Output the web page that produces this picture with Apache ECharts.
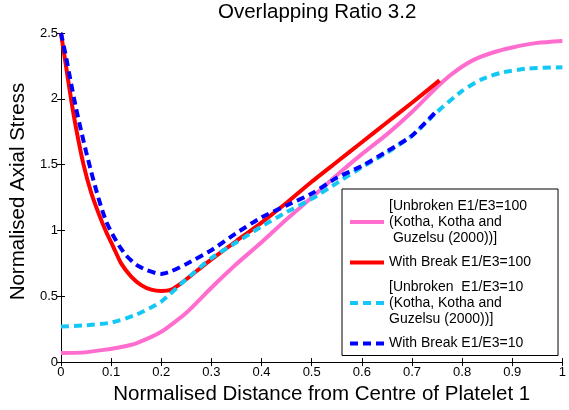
<!DOCTYPE html>
<html>
<head>
<meta charset="utf-8">
<title>Overlapping Ratio 3.2</title>
<script src="https://cdn.jsdelivr.net/npm/echarts/dist/echarts.min.js"></script>
<style>
  html, body { margin: 0; padding: 0; background: #fff; }
  #chart { width: 569px; height: 410px; }
</style>
</head>
<body>
<div id="chart"></div>
<script>
// values
const unbroken100X = [0, 0.04, 0.085, 0.12, 0.15, 0.2, 0.25, 0.3, 0.35, 0.4, 0.45, 0.5, 0.55, 0.6, 0.65, 0.7, 0.75, 0.78, 0.82, 0.86, 0.9, 0.95, 1.0]
const unbroken100Y = [0.07, 0.072, 0.093, 0.115, 0.143, 0.23, 0.375, 0.565, 0.745, 0.91, 1.085, 1.25, 1.42, 1.58, 1.73, 1.9, 2.09, 2.19, 2.29, 2.35, 2.39, 2.425, 2.44]

const break100X = [0, 0.01, 0.02, 0.03, 0.045, 0.06, 0.075, 0.09, 0.105, 0.12, 0.14, 0.16, 0.18, 0.2, 0.22, 0.24, 0.27, 0.3, 0.35, 0.4, 0.45, 0.5, 0.55, 0.6, 0.65, 0.7, 0.755]
const break100Y = [2.5, 2.25, 2.0, 1.78, 1.5, 1.29, 1.13, 0.99, 0.87, 0.75, 0.65, 0.585, 0.55, 0.54, 0.55, 0.6, 0.69, 0.78, 0.92, 1.06, 1.21, 1.37, 1.52, 1.67, 1.82, 1.97, 2.14]

const unbroken10X = [0, 0.05, 0.1, 0.15, 0.2, 0.25, 0.3, 0.35, 0.4, 0.45, 0.5, 0.55, 0.6, 0.65, 0.7, 0.75, 0.8, 0.84, 0.88, 0.93, 1.0]
const unbroken10Y = [0.27, 0.28, 0.3, 0.36, 0.46, 0.63, 0.79, 0.91, 1.03, 1.14, 1.24, 1.36, 1.48, 1.59, 1.72, 1.9, 2.06, 2.15, 2.2, 2.23, 2.24]

const break10X = [0, 0.01, 0.02, 0.03, 0.04, 0.05, 0.06, 0.07, 0.08, 0.09, 0.1, 0.115, 0.13, 0.15, 0.17, 0.19, 0.2, 0.22, 0.25, 0.3, 0.35, 0.4, 0.45, 0.5, 0.55, 0.6, 0.65, 0.7, 0.75]
const break10Y = [2.5, 2.32, 2.12, 1.93, 1.76, 1.6, 1.45, 1.31, 1.18, 1.07, 0.99, 0.89, 0.81, 0.74, 0.7, 0.675, 0.67, 0.69, 0.745, 0.85, 0.98, 1.1, 1.19, 1.28, 1.4, 1.49, 1.6, 1.72, 1.91]

const legendNames = [
  '[Unbroken E1/E3=100\n(Kotha, Kotha and\n Guzelsu (2000))]',
  'With Break E1/E3=100',
  '[Unbroken  E1/E3=10\n(Kotha, Kotha and\nGuzelsu (2000))]',
  'With Break E1/E3=10'
]

const font = 'Liberation Sans, Arial, sans-serif'

function pairs(xs, ys) {
  return xs.map((x, i) => [x, ys[i]])
}

const chart = echarts.init(document.getElementById('chart'), null, { renderer: 'canvas' })

const axisLine = { show: true, lineStyle: { color: '#000', width: 1 } }
const axisTick = { show: true, inside: true, length: 4, lineStyle: { color: '#000' } }

chart.setOption({
  animation: false,
  backgroundColor: '#fff',
  title: {
    text: 'Overlapping Ratio 3.2',
    left: 218,
    top: 2,
    padding: 0,
    textStyle: { fontFamily: font, fontSize: 20.5, fontWeight: 'normal', color: '#000' }
  },
  grid: { left: 57, right: 2, top: 33, bottom: 44 },
  legend: {
    orient: 'vertical',
    left: 342,
    top: 189,
    padding: [9, 27, 4, 6],
    itemGap: 8.5,
    itemWidth: 34,
    itemHeight: 14,
    backgroundColor: '#fff',
    borderColor: '#000',
    borderWidth: 1,
    borderRadius: 0,
    data: legendNames,
    // hide the marker dot, keep the line sample
    itemStyle: { opacity: 0 },
    lineStyle: { width: 4 },
    textStyle: { fontFamily: font, fontSize: 14, lineHeight: 16, color: '#000' }
  },
  xAxis: [{
    type: 'value',
    position: 'bottom',
    min: 0,
    max: 1,
    interval: 0.1,
    name: 'Normalised Distance from Centre of Platelet 1',
    nameLocation: 'middle',
    nameGap: 17,
    nameTextStyle: { fontFamily: font, fontSize: 20.5, color: '#000', padding: [0, 0, 0, 20] },
    axisLine: axisLine,
    axisTick: axisTick,
    splitLine: { show: false },
    axisLabel: { fontFamily: font, fontSize: 13, color: '#000', margin: 4 }
  }, {
    type: 'value',
    position: 'top',
    min: 0,
    max: 1,
    interval: 0.1,
    axisLine: axisLine,
    axisTick: axisTick,
    splitLine: { show: false },
    axisLabel: { show: false }
  }],
  yAxis: [{
    type: 'value',
    position: 'left',
    min: 0,
    max: 2.5,
    interval: 0.5,
    name: 'Normalised Axial Stress',
    nameLocation: 'middle',
    nameGap: 28,
    nameTextStyle: { fontFamily: font, fontSize: 20.5, color: '#000', padding: [0, 0, 0, 12] },
    axisLine: axisLine,
    axisTick: axisTick,
    splitLine: { show: false },
    axisLabel: { fontFamily: font, fontSize: 13, color: '#000', margin: 3 }
  }, {
    type: 'value',
    position: 'right',
    min: 0,
    max: 2.5,
    interval: 0.5,
    axisLine: axisLine,
    axisTick: axisTick,
    splitLine: { show: false },
    axisLabel: { show: false }
  }],
  series: [{
    name: legendNames[0],
    type: 'line',
    showSymbol: false,
    symbol: 'none',
    smooth: 0.2,
    data: pairs(unbroken100X, unbroken100Y),
    lineStyle: { color: '#ff6dcf', width: 4 },
    itemStyle: { color: '#ff6dcf' }
  }, {
    name: legendNames[1],
    type: 'line',
    showSymbol: false,
    symbol: 'none',
    smooth: 0.2,
    data: pairs(break100X, break100Y),
    lineStyle: { color: '#ff0000', width: 4 },
    itemStyle: { color: '#ff0000' }
  }, {
    name: legendNames[2],
    type: 'line',
    showSymbol: false,
    symbol: 'none',
    smooth: 0.2,
    data: pairs(unbroken10X, unbroken10Y),
    lineStyle: { color: '#14c8f5', width: 4, type: [8, 5], cap: 'butt' },
    itemStyle: { color: '#14c8f5' }
  }, {
    name: legendNames[3],
    type: 'line',
    showSymbol: false,
    symbol: 'none',
    smooth: 0.2,
    data: pairs(break10X, break10Y),
    lineStyle: { color: '#0000ff', width: 4, type: [8, 5], cap: 'butt' },
    itemStyle: { color: '#0000ff' }
  }]
})
</script>
</body>
</html>
